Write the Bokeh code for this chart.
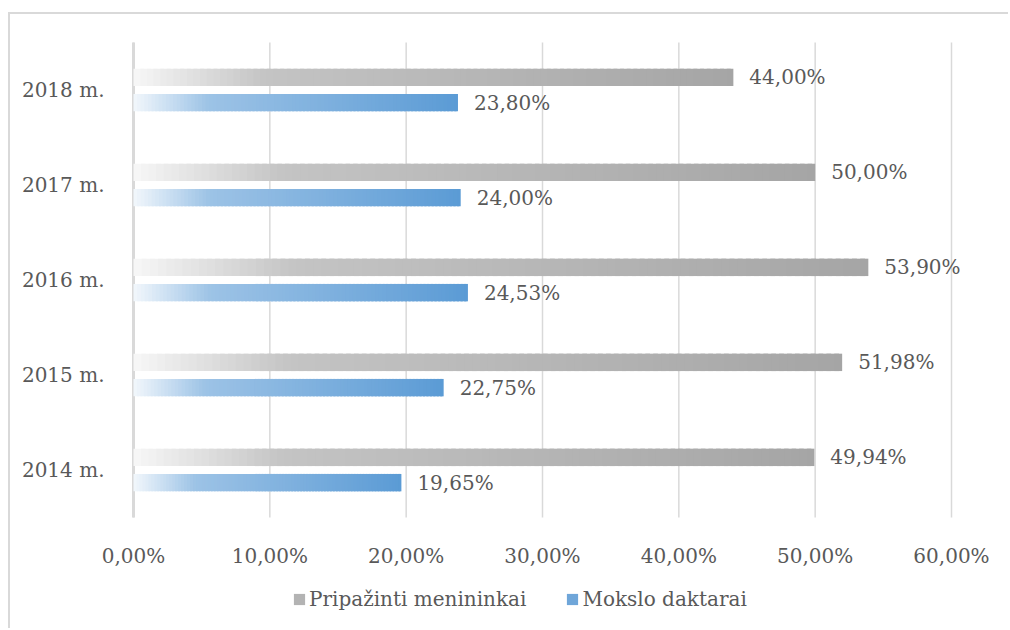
import numpy as np
from bokeh.plotting import figure
from bokeh.models import Range1d, FixedTicker, LinearAxis, Legend, LegendItem, ColumnDataSource
from bokeh.core.properties import value
from bokeh.embed import file_html
from bokeh.resources import INLINE

# ---- data ----
years = ["2014 m.", "2015 m.", "2016 m.", "2017 m.", "2018 m."]
menininkai = [49.94, 51.98, 53.90, 50.00, 44.00]
daktarai = [19.65, 22.75, 24.53, 24.00, 23.80]
series_names = ["Pripažinti menininkai", "Mokslo daktarai"]
x_ticks = [0, 10, 20, 30, 40, 50, 60]
x_tick_labels = ["0,00%", "10,00%", "20,00%", "30,00%", "40,00%", "50,00%", "60,00%"]

FONT = "DejaVu Serif"
TXT = "#595959"
GRID = "#d9d9d9"

# gradient stops (fraction along bar, rgb)
gray_stops = [(0.0, (247, 247, 247)), (0.22, (196, 196, 196)), (1.0, (165, 165, 165))]
blue_stops = [(0.0, (242, 247, 252)), (0.23, (157, 195, 230)), (1.0, (91, 155, 213))]


def grad_color(stops, f):
    for (f0, c0), (f1, c1) in zip(stops[:-1], stops[1:]):
        if f <= f1:
            t = (f - f0) / (f1 - f0) if f1 > f0 else 0
            c = [int(round(a + (b - a) * t)) for a, b in zip(c0, c1)]
            return "#%02x%02x%02x" % tuple(c)
    return "#%02x%02x%02x" % stops[-1][1]


# layout: the frame fills the whole canvas; axes are drawn at fixed locations
CANVAS_W, CANVAS_H = 1000, 616
X_MIN, X_MAX = 0, 60
PX_LEFT, PX_RIGHT = 123, 941          # canvas px of 0% and 60%
Y_TOP, Y_BOT = 4.5, -0.5
PX_TOP, PX_PER_CAT = 28, 95.0
ppx = (PX_RIGHT - PX_LEFT) / (X_MAX - X_MIN)
x_start = X_MIN - PX_LEFT / ppx
x_end = x_start + CANVAS_W / ppx
y_end = Y_TOP + PX_TOP / PX_PER_CAT
y_start = y_end - CANVAS_H / PX_PER_CAT

p = figure(width=CANVAS_W, height=CANVAS_H, x_range=Range1d(x_start, x_end),
           y_range=Range1d(y_start, y_end),
           output_backend="svg", toolbar_location=None, x_axis_location=None, y_axis_location=None,
           min_border_left=0, min_border_right=0, min_border_top=0, min_border_bottom=0)
p.styles = {"border-top": "2px solid #d9d9d9", "border-left": "2px solid #d9d9d9",
            "margin-top": "12px", "margin-left": "8px"}
p.outline_line_color = None
p.background_fill_color = "white"
p.border_fill_color = "white"
p.xgrid.grid_line_color = None
p.ygrid.grid_line_color = None

# vertical grid lines limited to the plot region
p.segment(x0=x_ticks, y0=[Y_BOT] * len(x_ticks), x1=x_ticks, y1=[Y_TOP] * len(x_ticks),
          line_color=GRID, line_width=1.5)
p.segment(x0=[0], y0=[Y_BOT], x1=[0], y1=[Y_TOP], line_color=GRID, line_width=3)

BAR_H = 0.183
OFF = 0.133
N = 90


def gradient_bars(vals, yoff, stops):
    ys, ls, rs, cs = [], [], [], []
    for i, v in enumerate(vals):
        for k in range(N):
            ys.append(i + yoff)
            ls.append(v * k / N)
            rs.append(min(v, v * (k + 1.6) / N))
            cs.append(grad_color(stops, (k + 0.5) / N))
    src = ColumnDataSource(dict(y=ys, left=ls, right=rs, color=cs))
    p.hbar(y="y", left="left", right="right", height=BAR_H, fill_color="color",
           line_color=None, source=src)


gradient_bars(menininkai, OFF, gray_stops)
gradient_bars(daktarai, -OFF, blue_stops)


def fmt(v):
    return ("%.2f%%" % v).replace(".", ",")


lab_src = ColumnDataSource(dict(
    x=menininkai + daktarai,
    y=[i + OFF for i in range(5)] + [i - OFF for i in range(5)],
    t=[fmt(v) for v in menininkai] + [fmt(v) for v in daktarai],
))
p.text(x="x", y="y", text="t", source=lab_src, x_offset=16, text_baseline="middle",
       text_align="left", text_font=value(FONT), text_font_size="20px", text_color=TXT)

# axes at fixed locations
xaxis = LinearAxis(fixed_location=Y_BOT)
p.add_layout(xaxis, "below")
xaxis.ticker = FixedTicker(ticks=x_ticks)
xaxis.major_label_overrides = {t: l for t, l in zip(x_ticks, x_tick_labels)}
xaxis.major_label_standoff = 20

yaxis = LinearAxis(fixed_location=X_MIN)
p.add_layout(yaxis, "left")
yaxis.ticker = FixedTicker(ticks=list(range(len(years))))
yaxis.major_label_overrides = {i: y for i, y in enumerate(years)}
yaxis.major_label_standoff = 23

for ax in (xaxis, yaxis):
    ax.axis_line_color = None
    ax.major_tick_line_color = None
    ax.minor_tick_line_color = None
    ax.major_label_text_font = FONT
    ax.major_label_text_font_size = "20px"
    ax.major_label_text_color = TXT

# legend
r1 = p.hbar(y=[0], left=[0], right=[0], height=0.01, fill_color="#b3b3b3", line_color=None)
r2 = p.hbar(y=[0], left=[0], right=[0], height=0.01, fill_color="#6fa6d9", line_color=None)
legend = Legend(items=[LegendItem(label=series_names[0], renderers=[r1]),
                       LegendItem(label=series_names[1], renderers=[r2])],
                orientation="horizontal", location=(PX_LEFT + 159, 19),
                border_line_color=None, background_fill_alpha=0,
                label_text_font=FONT, label_text_font_size="20px", label_text_color=TXT,
                glyph_width=14, glyph_height=14, spacing=39, padding=0, margin=0,
                label_standoff=3)
p.add_layout(legend, "center")

open("out.html", "w").write(file_html(p, INLINE))
